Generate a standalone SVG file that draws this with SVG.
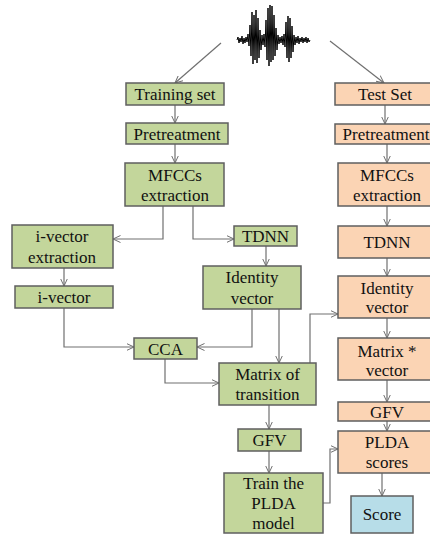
<svg xmlns="http://www.w3.org/2000/svg" width="430" height="536" viewBox="0 0 430 536">
<defs>
<style>
.g rect{fill:#c3d69b;stroke:#5f5f5f;stroke-width:1.5}
.o rect{fill:#fbd4b4;stroke:#5f5f5f;stroke-width:1.5}
.b rect{fill:#b7dde8;stroke:#5f5f5f;stroke-width:1.5}
text{font-family:'Liberation Serif',serif;font-size:17px;fill:#111;text-anchor:middle}
.c path,.c line,.c polyline{fill:none;stroke:#707070;stroke-width:1.2;marker-end:url(#ah)}
</style>
<marker id="ah" viewBox="0 0 8 8" refX="7.5" refY="4" markerWidth="8" markerHeight="8" markerUnits="userSpaceOnUse" orient="auto">
<path d="M0,0.5 L7.5,4 L0,7.5" fill="none" stroke="#707070" stroke-width="1"/>
</marker>
</defs>
<rect width="430" height="536" fill="#ffffff"/>
<g id="waveform">
<polyline fill="none" stroke="#000" stroke-width="1" points="237,40 238,37 239,43 240,38 241,42 242,36 243,44 244,38 245,43 246,37 247,42 248,34 249,46 250,25 251,56 252,12 253,64 254,15 255,60 256,10 257,63 258,18 259,58 260,30 261,50 262,35 263,45 264,34 265,47 266,20 267,60 268,8 269,66 270,5 271,62 272,6 273,60 274,15 275,56 276,28 277,50 278,35 279,44 280,37 281,43 282,36 283,45 284,34 285,47 286,22 287,58 288,16 289,62 290,18 291,58 292,26 293,52 294,35 295,45 296,37 297,43 298,36 299,44 300,38 301,42 302,37 303,43 304,38 305,42 306,37 307,43 308,38 309,42 310,40"/>
</g>
<g id="connectors" class="c">
<line x1="221" y1="43" x2="175" y2="83"/>
<line x1="330" y1="41" x2="384" y2="83"/>
<line x1="175" y1="105" x2="175" y2="123"/>
<line x1="175" y1="144" x2="175" y2="163"/>
<line x1="385" y1="105" x2="385" y2="124"/>
<line x1="387" y1="144" x2="387" y2="163"/>
<line x1="387" y1="206" x2="387" y2="226"/>
<line x1="387" y1="258" x2="387" y2="276"/>
<line x1="387" y1="318" x2="387" y2="338"/>
<line x1="387" y1="380" x2="387" y2="402"/>
<line x1="387" y1="421" x2="387" y2="431"/>
<line x1="382" y1="473" x2="382" y2="496"/>
<polyline points="163,206 163,239 113,239"/>
<polyline points="193,206 193,239 234,239"/>
<line x1="64" y1="268" x2="64" y2="286"/>
<line x1="266" y1="246" x2="266" y2="266"/>
<polyline points="64,308 64,347 134,347"/>
<polyline points="252,309 252,347 197,347"/>
<line x1="279" y1="309" x2="279" y2="363"/>
<polyline points="165,359 165,383 219,383"/>
<polyline points="310,363 310,314 338,314"/>
<line x1="269" y1="405" x2="269" y2="429"/>
<line x1="269" y1="451" x2="269" y2="473"/>
<polyline points="323,503 330,503 330,449 338,449"/>
</g>
<g id="train_set" class="g"><rect x="126" y="83" width="98" height="22"/><text x="175" y="100">Training set</text></g>
<g id="train_pre" class="g"><rect x="126" y="123" width="102" height="21"/><text x="177" y="139.5">Pretreatment</text></g>
<g id="train_mfcc" class="g"><rect x="125" y="163" width="99" height="43"/><text x="175" y="180.5">MFCCs</text><text x="175" y="201">extraction</text></g>
<g id="ivec_ext" class="g"><rect x="12" y="225" width="101" height="43"/><text x="62" y="242">i-vector</text><text x="62" y="263">extraction</text></g>
<g id="ivec" class="g"><rect x="15" y="286" width="98" height="22"/><text x="64" y="303">i-vector</text></g>
<g id="train_tdnn" class="g"><rect x="234" y="226" width="63" height="20"/><text x="265.5" y="242">TDNN</text></g>
<g id="train_id" class="g"><rect x="203" y="266" width="98" height="43"/><text x="252" y="283">Identity</text><text x="252" y="304">vector</text></g>
<g id="cca" class="g"><rect x="134" y="338" width="63" height="21"/><text x="165.5" y="354.5">CCA</text></g>
<g id="transition" class="g"><rect x="219" y="363" width="97" height="42"/><text x="267.5" y="380">Matrix of</text><text x="267.5" y="400">transition</text></g>
<g id="train_gfv" class="g"><rect x="238" y="429" width="63" height="22"/><text x="269.5" y="446">GFV</text></g>
<g id="train_plda" class="g"><rect x="224" y="473" width="99" height="60"/><text x="273.5" y="489">Train the</text><text x="273.5" y="509">PLDA</text><text x="273.5" y="529">model</text></g>
<g id="test_set" class="o"><rect x="335" y="83" width="103" height="22"/><text x="385" y="100">Test Set</text></g>
<g id="test_pre" class="o"><rect x="335" y="124" width="103" height="20"/><text x="386" y="140">Pretreatment</text></g>
<g id="test_mfcc" class="o"><rect x="338" y="163" width="100" height="43"/><text x="387" y="180.5">MFCCs</text><text x="387" y="201">extraction</text></g>
<g id="test_tdnn" class="o"><rect x="338" y="226" width="100" height="32"/><text x="387" y="248">TDNN</text></g>
<g id="test_id" class="o"><rect x="338" y="276" width="100" height="42"/><text x="387" y="294">Identity</text><text x="387" y="313">vector</text></g>
<g id="test_mv" class="o"><rect x="338" y="338" width="100" height="42"/><text x="387" y="357">Matrix *</text><text x="387" y="376">vector</text></g>
<g id="test_gfv" class="o"><rect x="338" y="402" width="100" height="19"/><text x="387" y="417.5">GFV</text></g>
<g id="test_plda" class="o"><rect x="338" y="431" width="100" height="42"/><text x="387" y="448">PLDA</text><text x="387" y="468">scores</text></g>
<g id="score" class="b"><rect x="351" y="496" width="62" height="37"/><text x="382" y="520">Score</text></g>
</svg>
